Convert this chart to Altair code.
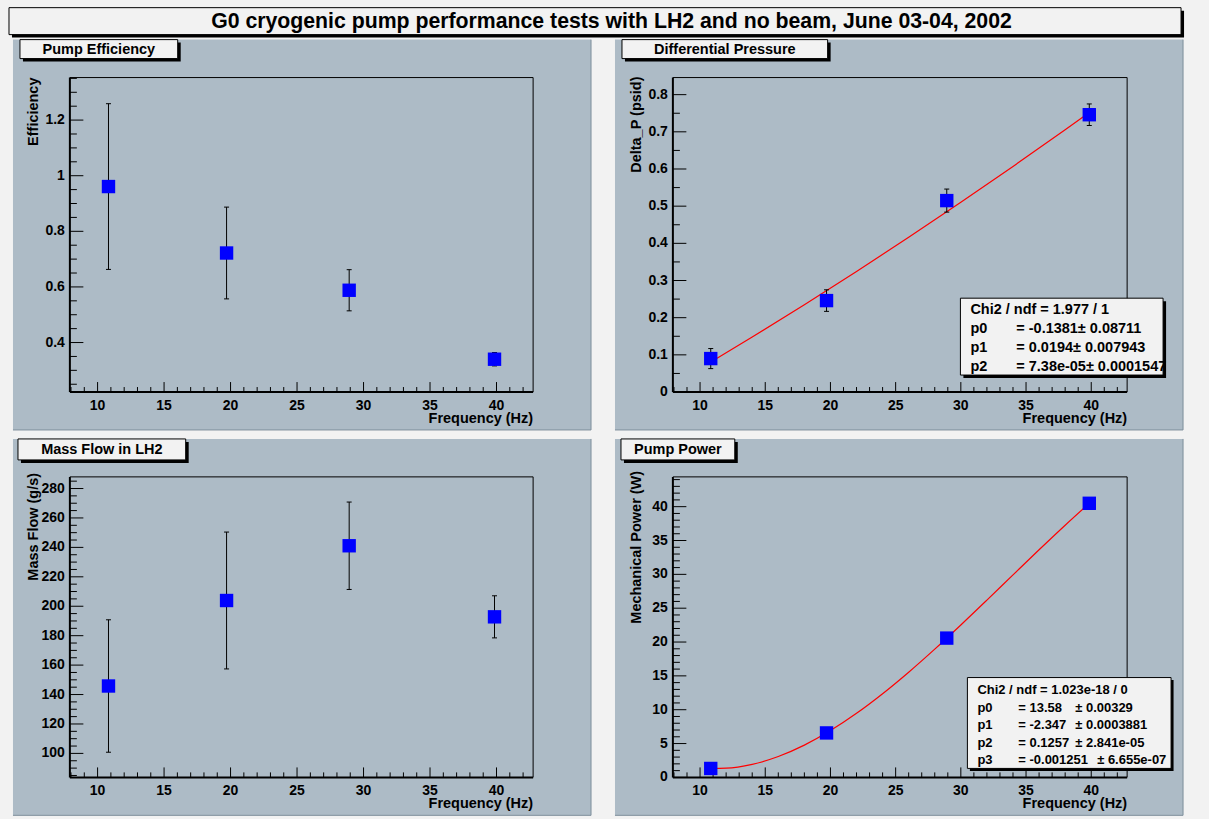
import altair as alt
import pandas as pd

# ---------------- values ----------------
FREQ = [10.82, 19.70, 28.92, 39.85]

EFFICIENCY = [0.961, 0.722, 0.588, 0.340]
EFFICIENCY_ERR = [0.298, 0.165, 0.074, 0.024]

DELTA_P = [0.090, 0.246, 0.515, 0.746]
DELTA_P_ERR = [0.027, 0.029, 0.031, 0.029]

MASS_FLOW = [145.8, 203.9, 241.1, 192.8]
MASS_FLOW_ERR = [45.0, 46.5, 29.7, 14.3]

POWER = [1.32, 6.57, 20.58, 40.50]

# fitted curves as drawn (red lines)
DP_FIT_X = [10.82, 14, 18, 22, 26, 30, 34, 38, 39.85]
DP_FIT_Y = [0.0804, 0.1480, 0.2350, 0.3244, 0.4162, 0.5103, 0.6068, 0.7057, 0.7522]
PW_FIT_X = [10.82, 12, 14, 16, 18, 20, 22, 24, 26, 28, 30, 32, 34, 36, 38, 39.85]
PW_FIT_Y = [1.316, 1.355, 1.926, 3.083, 4.765, 6.912, 9.464, 12.361, 15.543,
            18.951, 22.523, 26.200, 29.922, 33.628, 37.260, 40.499]

# axes
X_DOMAIN = [7.917, 42.753]
X_MAJOR = [10, 15, 20, 25, 30, 35, 40]
X_MINOR = [8, 9, 11, 12, 13, 14, 16, 17, 18, 19, 21, 22, 23, 24, 26, 27, 28, 29,
           31, 32, 33, 34, 36, 37, 38, 39, 41, 42]

EFF_DOMAIN = [0.222, 1.353]
EFF_MAJOR = [0.4, 0.6, 0.8, 1.0, 1.2]
EFF_MINOR = [0.25, 0.3, 0.35, 0.45, 0.5, 0.55, 0.65, 0.7, 0.75, 0.85, 0.9, 0.95,
             1.05, 1.1, 1.15, 1.25, 1.3, 1.35]

DP_DOMAIN = [0.0, 0.846]
DP_MAJOR = [0, 0.1, 0.2, 0.3, 0.4, 0.5, 0.6, 0.7, 0.8]
DP_MINOR = [0.05, 0.15, 0.25, 0.35, 0.45, 0.55, 0.65, 0.75]

MF_DOMAIN = [83.7, 287.9]
MF_MAJOR = [100, 120, 140, 160, 180, 200, 220, 240, 260, 280]
MF_MINOR = [85, 90, 95, 105, 110, 115, 125, 130, 135, 145, 150, 155, 165, 170, 175,
            185, 190, 195, 205, 210, 215, 225, 230, 235, 245, 250, 255, 265, 270,
            275, 285]

PW_DOMAIN = [0.0, 44.4]
PW_MAJOR = [0, 5, 10, 15, 20, 25, 30, 35, 40]
PW_MINOR = [1, 2, 3, 4, 6, 7, 8, 9, 11, 12, 13, 14, 16, 17, 18, 19, 21, 22, 23, 24,
            26, 27, 28, 29, 31, 32, 33, 34, 36, 37, 38, 39, 41, 42, 43, 44]

# texts
MAIN_TITLE = "G0 cryogenic pump performance tests with LH2 and no beam, June 03-04, 2002"
PANEL_TITLES = ["Pump Efficiency", "Differential Pressure", "Mass Flow in LH2", "Pump Power"]
Y_TITLES = ["Efficiency", "Delta_P (psid)", "Mass Flow (g/s)", "Mechanical Power (W)"]
X_TITLE = "Frequency (Hz)"
DP_STATS_HEAD = "Chi2 / ndf = 1.977 / 1"
DP_STATS_NAMES = ["p0", "p1", "p2"]
DP_STATS_VALS = ["= -0.1381\u00b1 0.08711", "= 0.0194\u00b1 0.007943", "= 7.38e-05\u00b1 0.0001547"]
PW_STATS_HEAD = "Chi2 / ndf = 1.023e-18 / 0"
PW_STATS_NAMES = ["p0", "p1", "p2", "p3"]
PW_STATS_VALS = ["= 13.58", "= -2.347", "= 0.1257", "= -0.001251"]
PW_STATS_ERRS = ["\u00b1 0.00329", "\u00b1 0.0003881", "\u00b1 2.841e-05", "\u00b1 6.655e-07"]

# ---------------- styling ----------------
FONT = "Liberation Sans"
PAD_FILL = "#adbbc6"
CANVAS = "#f2f2f2"
BOX_FILL = "#f2f2f2"
EDGE = "#7d8e9c"
ONE = pd.DataFrame({"k": [0]})


def rect(x1, x2, y1, y2, fill, stroke=None, sw=1.0):
    kw = {"fill": fill}
    if stroke is not None:
        kw["stroke"] = stroke
        kw["strokeWidth"] = sw
    return alt.Chart(ONE).mark_rect(**kw).encode(
        x=alt.value(x1), x2=alt.value(x2), y=alt.value(y1), y2=alt.value(y2))


def hrule(x1, x2, y, color="black", sw=1.0):
    return alt.Chart(ONE).mark_rule(color=color, strokeWidth=sw).encode(
        x=alt.value(x1), x2=alt.value(x2), y=alt.value(y))


def vrule(x, y1, y2, color="black", sw=1.0):
    return alt.Chart(ONE).mark_rule(color=color, strokeWidth=sw).encode(
        x=alt.value(x), y=alt.value(y1), y2=alt.value(y2))


def text(t, x, y, size, align="left", baseline="alphabetic", angle=0):
    kw = dict(font=FONT, fontSize=size, fontWeight="bold", color="black",
              align=align, baseline=baseline)
    if angle:
        kw["angle"] = angle
    return alt.Chart(pd.DataFrame({"t": [t]})).mark_text(**kw).encode(
        x=alt.value(x), y=alt.value(y), text="t:N")


def boxed_label(t, x1, x2, y1, y2, size, shadow=3):
    return [rect(x1 + shadow, x2 + shadow, y1 + shadow, y2 + shadow, "black"),
            rect(x1, x2, y1, y2, BOX_FILL, "black", 1),
            text(t, (x1 + x2) / 2, (y1 + y2) / 2 + 0.5, size, "center", "middle")]


def points(ys, errs=None):
    d = {"x": FREQ, "y": ys}
    if errs is not None:
        d["lo"] = [v - e for v, e in zip(ys, errs)]
        d["hi"] = [v + e for v, e in zip(ys, errs)]
    return pd.DataFrame(d)


def panel(w, h, pad, ydom, ymajor, yminor, ytitle, ytitle_y, title_box, df,
          fit=None, stats=(), before=()):
    xs = alt.Scale(domain=X_DOMAIN, nice=False, zero=False)
    ys = alt.Scale(domain=ydom, nice=False, zero=False)

    def X(f="x"):
        return alt.X(f + ":Q", scale=xs, axis=None)

    def Y(f="y"):
        return alt.Y(f + ":Q", scale=ys, axis=None)

    layers = list(before)
    px1, px2, py1, py2 = pad
    layers.append(rect(px1, px2, py1, py2, PAD_FILL))
    layers.append(vrule(px2, py1, py2, EDGE))
    layers.append(hrule(px1, px2, py2, EDGE))
    layers += boxed_label(*title_box)
    # inward ticks
    for vals, ln in ((X_MINOR, 5), (X_MAJOR, 10)):
        layers.append(alt.Chart(pd.DataFrame({"x": vals})).mark_rule(
            color="black", strokeWidth=1).encode(
            x=X(), y=alt.value(h), y2=alt.value(h - ln)))
    for vals, ln in ((yminor, 7), (ymajor, 13.5)):
        layers.append(alt.Chart(pd.DataFrame({"y": vals})).mark_rule(
            color="black", strokeWidth=1).encode(
            y=Y(), x=alt.value(0), x2=alt.value(ln)))
    # frame
    layers.append(hrule(0, w, 0))
    layers.append(vrule(w, 0, h))
    layers.append(vrule(0, 0, h, sw=2))
    layers.append(hrule(0, w, h, sw=2))
    # tick labels
    layers.append(alt.Chart(pd.DataFrame({"x": X_MAJOR})).mark_text(
        font=FONT, fontSize=14, fontWeight="bold", color="black",
        align="center", baseline="top").encode(
        x=X(), y=alt.value(h + 7), text=alt.Text("x:Q", format="~g")))
    layers.append(alt.Chart(pd.DataFrame({"y": ymajor})).mark_text(
        font=FONT, fontSize=14, fontWeight="bold", color="black",
        align="right", baseline="middle").encode(
        y=Y(), x=alt.value(-5), text=alt.Text("y:Q", format="~g")))
    # axis titles
    layers.append(text(X_TITLE, w, h + 30.7, 14.5, "right"))
    layers.append(text(ytitle, -31.5, ytitle_y, 14.5, "right", "alphabetic", 270))
    # data
    if fit is not None:
        fx, fy = fit
        layers.append(alt.Chart(pd.DataFrame({"x": fx, "y": fy})).mark_line(
            color="#ff0000", strokeWidth=1.2, interpolate="monotone").encode(
            x=X(), y=Y()))
    if "lo" in df.columns:
        layers.append(alt.Chart(df).mark_rule(color="black", strokeWidth=1).encode(
            x=X(), y=Y("lo"), y2="hi:Q"))
        for f in ("lo", "hi"):
            layers.append(alt.Chart(df).mark_rule(
                color="black", strokeWidth=1, xOffset=-2.5, x2Offset=2.5).encode(
                x=X(), x2="x:Q", y=Y(f)))
    layers.append(alt.Chart(df).mark_square(size=180, color="#0000ff", opacity=1).encode(
        x=X(), y=Y()))
    layers += list(stats)
    return alt.layer(*layers).properties(width=w, height=h)


# ---------------- top-left: efficiency (origin 69,76) ----------------
tl_before = [rect(-69, 1140, -76, 743, CANVAS),
             rect(-58, 1116, -67, -40, "black"),
             rect(-61, 1113, -70, -43, BOX_FILL, "black", 1),
             text(MAIN_TITLE, 542.5, -56, 21.3, "center", "middle")]
tl = panel(464, 315, (-57, 522, -38, 353), EFF_DOMAIN, EFF_MAJOR, EFF_MINOR,
           Y_TITLES[0], 0, (PANEL_TITLES[0], -50, 108, -38, -19, 14.5),
           points(EFFICIENCY, EFFICIENCY_ERR), before=tl_before)

# ---------------- top-right: differential pressure (origin 673,76) ----------------
tr_stats = [rect(291, 494, 224, 301, "black"),
            rect(288, 491, 221, 298, BOX_FILL, "black", 1),
            text(DP_STATS_HEAD, 298, 236.5, 14.5)]
for i, (n, v) in enumerate(zip(DP_STATS_NAMES, DP_STATS_VALS)):
    yb = [256, 275, 294][i]
    tr_stats.append(text(n, 298, yb, 14.5))
    tr_stats.append(text(v, 344, yb, 14.5))
tr = panel(455, 315, (-58, 511, -38, 353), DP_DOMAIN, DP_MAJOR, DP_MINOR,
           Y_TITLES[1], -1, (PANEL_TITLES[1], -51, 155, -38, -19, 14.5),
           points(DELTA_P, DELTA_P_ERR), fit=(DP_FIT_X, DP_FIT_Y), stats=tr_stats)

# ---------------- bottom-left: mass flow (origin 69,476) ----------------
bl = panel(464, 301, (-57, 522, -38, 339), MF_DOMAIN, MF_MAJOR, MF_MINOR,
           Y_TITLES[2], -4, (PANEL_TITLES[2], -52, 116, -38, -17, 14.5),
           points(MASS_FLOW, MASS_FLOW_ERR))

# ---------------- bottom-right: pump power (origin 673,476) ----------------
br_stats = [rect(297.5, 501.5, 203.5, 294.5, "black"),
            rect(295, 499, 201, 292, BOX_FILL, "black", 1),
            text(PW_STATS_HEAD, 305, 217, 13)]
for i, (n, v, e) in enumerate(zip(PW_STATS_NAMES, PW_STATS_VALS, PW_STATS_ERRS)):
    yb = [235, 253, 271, 288][i]
    br_stats.append(text(n, 305, yb, 13))
    br_stats.append(text(v, 346, yb, 13))
    br_stats.append(text(e, [403, 403, 403, 425][i], yb, 13))
br = panel(455, 301, (-58, 511, -38, 339), PW_DOMAIN, PW_MAJOR, PW_MINOR,
           Y_TITLES[3], -6, (PANEL_TITLES[3], -52, 62, -38, -17, 14.5),
           points(POWER), fit=(PW_FIT_X, PW_FIT_Y), stats=br_stats)

chart = alt.concat(tl, tr, bl, br, columns=2,
                   spacing={"row": 85, "column": 140}, bounds="flush").properties(
    background=CANVAS, padding=0).configure_view(stroke="transparent")

chart.save("out.html", embed_options={"renderer": "svg", "actions": False})
